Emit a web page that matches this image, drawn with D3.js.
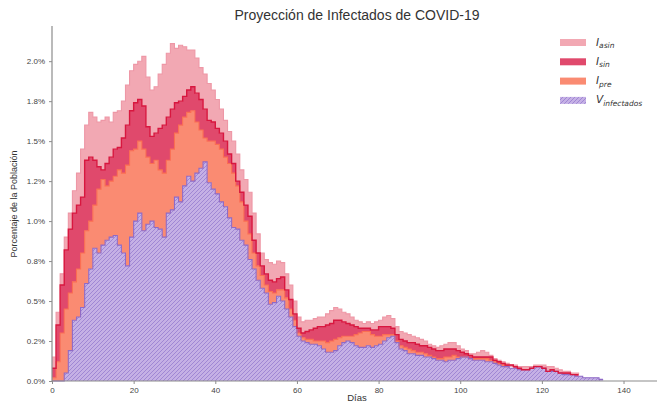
<!DOCTYPE html>
<html>
<head>
<meta charset="utf-8">
<script src="https://cdn.jsdelivr.net/npm/d3@7"></script>
<style>
  body { margin: 0; background: #fff; }
  svg { display: block; font-family: "Liberation Sans", Arial, sans-serif; }
</style>
</head>
<body>
<div id="chart"></div>
<script>
// porcentaje de la población, un valor por día (0..135)
const vInfectados = [
  0,0,0,0.05,0.19,0.38,0.4,0.46,0.61,0.7,0.83,0.8,0.85,0.88,0.9,0.91,0.85,0.8,0.72,0.9,
  1.0,1.05,0.94,0.98,1.0,0.96,0.95,0.9,1.05,1.07,1.15,1.12,1.22,1.28,1.25,1.3,1.33,1.37,1.24,1.2,
  1.17,1.12,1.09,1.02,0.96,0.95,0.88,0.85,0.76,0.7,0.63,0.58,0.55,0.48,0.49,0.53,0.5,0.45,0.4,0.34,
  0.28,0.25,0.24,0.23,0.23,0.22,0.2,0.18,0.18,0.19,0.22,0.24,0.25,0.24,0.22,0.21,0.21,0.22,0.21,0.22,
  0.23,0.25,0.27,0.28,0.24,0.2,0.19,0.17,0.17,0.16,0.16,0.15,0.15,0.14,0.13,0.13,0.12,0.13,0.13,0.14,
  0.15,0.15,0.14,0.13,0.13,0.13,0.12,0.12,0.11,0.1,0.09,0.09,0.08,0.08,0.07,0.07,0.07,0.08,0.09,0.09,
  0.08,0.06,0.06,0.06,0.05,0.04,0.04,0.04,0.03,0.03,0.02,0.02,0.02,0.02,0.01,0.01
];
const iPre = [
  0.02,0.12,0.3,0.4,0.36,0.24,0.3,0.34,0.33,0.3,0.27,0.4,0.41,0.34,0.35,0.37,0.47,0.5,0.63,0.54,
  0.45,0.45,0.51,0.42,0.36,0.42,0.37,0.4,0.33,0.38,0.4,0.48,0.43,0.4,0.44,0.32,0.24,0.15,0.26,0.3,
  0.31,0.33,0.31,0.34,0.34,0.27,0.24,0.15,0.16,0.1,0.09,0.08,0.05,0.08,0.06,0.04,0.07,0.07,0.05,0.04,
  0.02,0.02,0.02,0.03,0.02,0.03,0.05,0.06,0.07,0.07,0.05,0.04,0.03,0.04,0.07,0.09,0.1,0.09,0.08,0.06,
  0.05,0.04,0.02,0.01,0.01,0.02,0.02,0.03,0.02,0.02,0.02,0.02,0.01,0.01,0.01,0.01,0.03,0.02,0.03,0.01,
  0,0,0,0.01,0.01,0.01,0.02,0.01,0.01,0.01,0.01,0,0.01,0,0,0,0,0,0,0,
  0,0,0,0,0,0,0,0,0,0,0,0,0,0,0,0
];
const iSin = [
  0.06,0.23,0.3,0.37,0.4,0.43,0.4,0.35,0.44,0.4,0.28,0.14,0.06,0.14,0.15,0.17,0.14,0.22,0.25,0.25,
  0.29,0.26,0.27,0.19,0.17,0.17,0.26,0.3,0.27,0.25,0.19,0.15,0.13,0.14,0.15,0.18,0.19,0.18,0.13,0.12,
  0.1,0.1,0.1,0.06,0.06,0.03,0.06,0.1,0.11,0.08,0.08,0.06,0.07,0.07,0.07,0.07,0.08,0.05,0.06,0.04,
  0.03,0.03,0.05,0.06,0.08,0.09,0.09,0.11,0.11,0.12,0.11,0.09,0.08,0.07,0.05,0.03,0.02,0.02,0.03,0.04,
  0.06,0.05,0.05,0.04,0.04,0.04,0.04,0.04,0.05,0.05,0.04,0.05,0.05,0.05,0.05,0.05,0.05,0.05,0.04,0.04,
  0.03,0.02,0.02,0.01,0.01,0.01,0.01,0.02,0.01,0.01,0.01,0.01,0.01,0.01,0.01,0,0,0,0,0,
  0,0,0.01,0,0,0.01,0.01,0,0.01,0.01,0,0,0,0,0,0
];
const iAsin = [
  0.07,0.08,0.07,0.08,0.1,0.14,0.2,0.3,0.22,0.28,0.27,0.28,0.31,0.29,0.22,0.23,0.23,0.23,0.25,0.25,
  0.24,0.24,0.31,0.31,0.29,0.29,0.34,0.38,0.4,0.41,0.34,0.35,0.31,0.25,0.23,0.22,0.2,0.22,0.23,0.2,
  0.18,0.15,0.13,0.14,0.14,0.17,0.14,0.16,0.15,0.17,0.12,0.08,0.09,0.11,0.11,0.11,0.09,0.1,0.09,0.08,
  0.07,0.07,0.07,0.06,0.06,0.06,0.06,0.07,0.08,0.08,0.07,0.06,0.06,0.05,0.04,0.04,0.03,0.04,0.04,0.05,
  0.04,0.06,0.07,0.06,0.05,0.05,0.05,0.05,0.04,0.04,0.04,0.03,0.02,0.02,0.02,0.03,0.03,0.04,0.04,0.03,
  0.02,0.02,0.01,0.02,0.03,0.04,0.03,0.01,0.01,0.01,0.01,0.01,0,0.01,0.01,0.02,0.02,0.01,0.01,0.01,
  0.02,0.03,0.02,0.02,0.02,0.01,0.01,0.01,0.01,0,0,0,0,0,0,0
];

const xTicks = [0, 20, 40, 60, 80, 100, 120, 140];
const yTicks = [0, 0.25, 0.5, 0.75, 1.0, 1.25, 1.5, 1.75, 2.0];
const yTickLabels = ["0.0%", "0.2%", "0.5%", "0.8%", "1.0%", "1.2%", "1.5%", "1.8%", "2.0%"];

const W = 657, H = 403;
const svg = d3.select('#chart').append('svg')
  .attr('width', W)
  .attr('height', H);

const x = d3.scaleLinear().domain([0, 148.2]).range([52, 657]);
const y = d3.scaleLinear().domain([0, 2.22]).range([381, 26]);

// rayado para V
const defs = svg.append('defs');
const pat = defs.append('pattern')
  .attr('id', 'hatch')
  .attr('patternUnits', 'userSpaceOnUse')
  .attr('width', 4)
  .attr('height', 4);
pat.append('rect').attr('width', 4).attr('height', 4).attr('fill', '#c5b0e5');
pat.append('path')
  .attr('d', 'M-1,1 l2,-2 M0,4 l4,-4 M3,5 l2,-2')
  .attr('stroke', '#9c82d2')
  .attr('stroke-width', 0.9);

const keys = ['v', 'pre', 'sin', 'asin'];
const rows = vInfectados.map((v, i) => ({
  day: i, v: v, pre: iPre[i], sin: iSin[i], asin: iAsin[i]
}));
const stacked = d3.stack().keys(keys)(rows);

const fills = { v: 'url(#hatch)', pre: '#fa8b72', sin: '#e0496c', asin: '#f2a8b3' };
const edges = { v: '#8f6ac6', pre: '#fb6e52', sin: '#d8173f', asin: '#ee97a6' };

const area = d3.area()
  .curve(d3.curveStepAfter)
  .x(d => x(d.data.day))
  .y0(d => y(d[0]))
  .y1(d => y(d[1]));

const topLine = d3.line()
  .curve(d3.curveStepAfter)
  .x(d => x(d.data.day))
  .y(d => y(d[1]));

// las series terminan antes que V
const lastDay = { v: 135, pre: 112, sin: 129, asin: 129 };

svg.append('g').selectAll('path')
  .data(stacked)
  .join('path')
  .attr('d', s => area(s.filter(d => d.data.day <= lastDay[s.key] || s.key === 'v')))
  .attr('fill', s => fills[s.key]);

const lineOrder = ['asin', 'pre', 'v', 'sin'];
svg.append('g').selectAll('path')
  .data(lineOrder.map(k => stacked.find(s => s.key === k)))
  .join('path')
  .attr('d', s => topLine(s.filter(d => d.data.day <= lastDay[s.key])))
  .attr('fill', 'none')
  .attr('stroke', s => edges[s.key])
  .attr('stroke-width', s => s.key === 'sin' ? 1.4 : 1.1);

// ejes
const axisColor = '#8c8c8c';
const xAxis = svg.append('g')
  .attr('transform', 'translate(0,381)')
  .call(d3.axisBottom(x).tickValues(xTicks).tickSize(3).tickPadding(3));
const yAxis = svg.append('g')
  .attr('transform', 'translate(52,0)')
  .call(d3.axisLeft(y).tickValues(yTicks).tickFormat((d, i) => yTickLabels[i]).tickSize(3).tickPadding(4));

[xAxis, yAxis].forEach(a => {
  a.select('.domain').attr('stroke', axisColor).attr('stroke-width', 1.2);
  a.selectAll('.tick line').attr('stroke', axisColor);
  a.selectAll('.tick text').attr('fill', '#444').attr('font-size', 8)
    .attr('font-family', '"Liberation Sans", Arial, sans-serif');
});
yAxis.select('.domain').attr('d', `M0,${y(2.22)}V381`);
xAxis.select('.domain').attr('d', `M52,0H657`);

svg.append('text')
  .attr('x', 357).attr('y', 20)
  .attr('text-anchor', 'middle')
  .attr('font-size', 14)
  .attr('fill', '#333')
  .text('Proyección de Infectados de COVID-19');

svg.append('text')
  .attr('transform', 'translate(17,204) rotate(-90)')
  .attr('text-anchor', 'middle')
  .attr('font-size', 9)
  .attr('fill', '#333')
  .text('Porcentaje de la Población');

svg.append('text')
  .attr('x', 357).attr('y', 401)
  .attr('text-anchor', 'middle')
  .attr('font-size', 9.5)
  .attr('fill', '#333')
  .text('Días');

// leyenda
const legendItems = [
  { key: 'asin', main: 'I', sub: 'asin' },
  { key: 'sin', main: 'I', sub: 'sin' },
  { key: 'pre', main: 'I', sub: 'pre' },
  { key: 'v', main: 'V', sub: 'infectados' }
];
const legend = svg.append('g');
legendItems.forEach((it, i) => {
  const cy = 42.5 + i * 19.3;
  legend.append('rect')
    .attr('x', 560).attr('y', cy - 3.5)
    .attr('width', 26).attr('height', 7)
    .attr('fill', fills[it.key]);
  const t = legend.append('text')
    .attr('x', 596).attr('y', cy + 3)
    .attr('font-family', '"DejaVu Sans", sans-serif')
    .attr('font-style', 'italic')
    .attr('fill', '#333')
    .attr('font-size', 10.5);
  t.append('tspan').text(it.main);
  t.append('tspan').attr('font-size', 7.5).attr('dy', 2.5).text(it.sub);
});
</script>
</body>
</html>
